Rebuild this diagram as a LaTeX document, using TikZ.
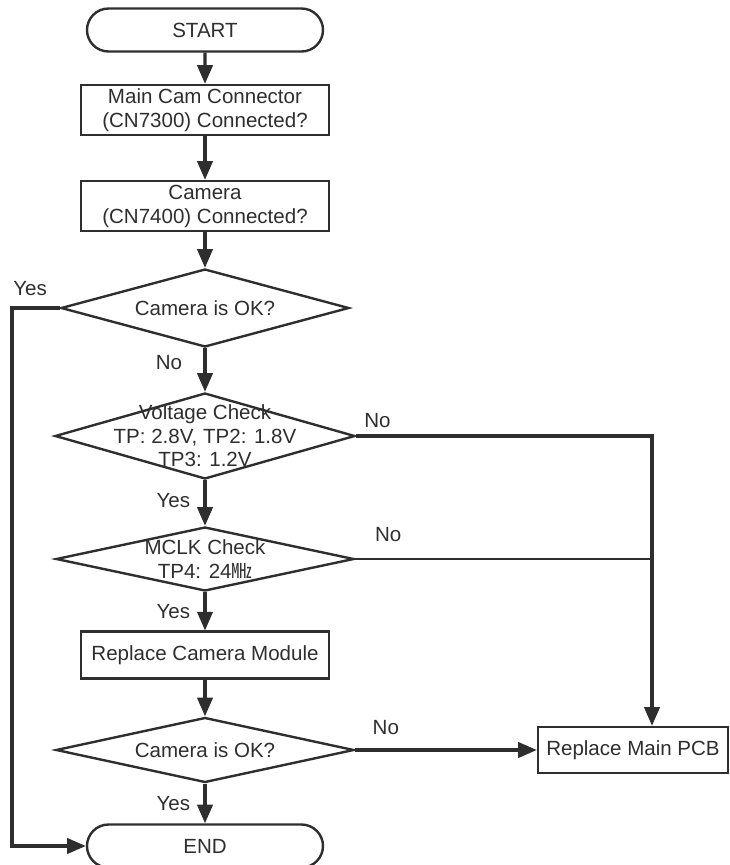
\documentclass[tikz,border=0pt]{standalone}
\usepackage{fontspec}
\setmainfont{Liberation Sans}
\newfontfamily\cjk{Noto Sans CJK SC}
\usetikzlibrary{positioning, arrows.meta, shapes, calc}
\definecolor{ink}{HTML}{2E2E2E}

\begin{document}
\begin{tikzpicture}[
				x=0.75pt, y=-0.75pt,
				% Define Node Styles
				base/.style={draw=ink, line width=1.8pt, text=ink, align=center, inner sep=0pt, font=\fontsize{15.4}{18}\selectfont},
				terminal/.style={base, rounded rectangle, minimum width=177pt, minimum height=32.25pt},
				process/.style={base, rectangle, minimum width=186pt, minimum height=35pt},
				decision/.style={base, diamond},
				txt/.style={text=ink, align=center, inner sep=0pt, font=\fontsize{15.4}{17.6}\selectfont},
				lbl/.style={txt},
				% Define Connector Styles
				flow/.style={-{Triangle[length=14pt, width=11.5pt]}, line width=2.3pt, draw=ink},
				link/.style={line width=1.8pt, draw=ink}
				]
				\useasboundingbox (0,0) rectangle (730,865);
				
				% Nodes
				\node[terminal] (start) at (205,30) {START};
				\node[process, minimum height=37.5pt] (camconn) at (205,110) {Main Cam Connector\\(CN7300) Connected?};
				\node[process, minimum height=37.5pt] (camera) at (205,206) {Camera\\(CN7400) Connected?};
				\node[decision, minimum width=216pt, minimum height=58.5pt,
					label={[txt]center:Camera is OK?}] (camok) at (205,308) {};
				\node[decision, minimum width=225pt, minimum height=64.5pt,
					label={[txt]center:Voltage Check\\TP: 2.8V, TP2: 1.8V\\TP3: 1.2V}] (volt) at (205,436) {};
				\node[decision, minimum width=223.5pt, minimum height=48pt,
					label={[txt]center:MCLK Check\\TP4: 24{\cjk ㎒}}] (mclk) at (205,559) {};
				\node[process] (module) at (205,655) {Replace Camera Module};
				\node[decision, minimum width=223.5pt, minimum height=48.75pt,
					label={[txt]center:Camera is OK?}] (camok2) at (205,750) {};
				\node[process, minimum width=142.5pt, minimum height=34.5pt] (pcb) at (633,750) {Replace Main PCB};
				\node[terminal] (stop) at (205,846) {END};
				
				% Turning points
				\coordinate (lft) at (12,0);
				\coordinate (join) at (652,0);
				
				% Main line
				\draw[flow] (start) -- (camconn);
				\draw[flow] (camconn) -- (camera);
				\draw[flow] (camera) -- (camok);
				\draw[flow] (camok.south) -- node[lbl, left=16pt, pos=0.33] {No} (volt.north);
				\draw[flow] (volt.south) -- node[lbl, left=10pt, pos=0.45] {Yes} (mclk.north);
				\draw[flow] (mclk.south) -- node[lbl, left=10pt, pos=0.5] {Yes} (module.north);
				\draw[flow] (module) -- (camok2.north);
				\draw[flow] (camok2.south) -- node[lbl, left=10pt, pos=0.5] {Yes} (stop.north);
				
				% Yes branch to END
				\draw[flow] (camok.west) -- node[lbl, above=8pt, pos=0.62] {Yes} (camok.west -| lft) |- (stop.west);
				
				% No branches to PCB
				\draw[flow] (volt.east) -- node[lbl, above right=5pt and 5pt, pos=0] {No} (volt.east -| join) -- (join |- pcb.north);
				\draw[link] (mclk.east) -- node[lbl, above right=12pt and 14pt, pos=0] {No} (mclk.east -| join);
				\draw[flow] (camok2.east) -- node[lbl, above right=10.5pt and 12pt, pos=0] {No} (pcb.west);
				
			\end{tikzpicture}
\end{document}
